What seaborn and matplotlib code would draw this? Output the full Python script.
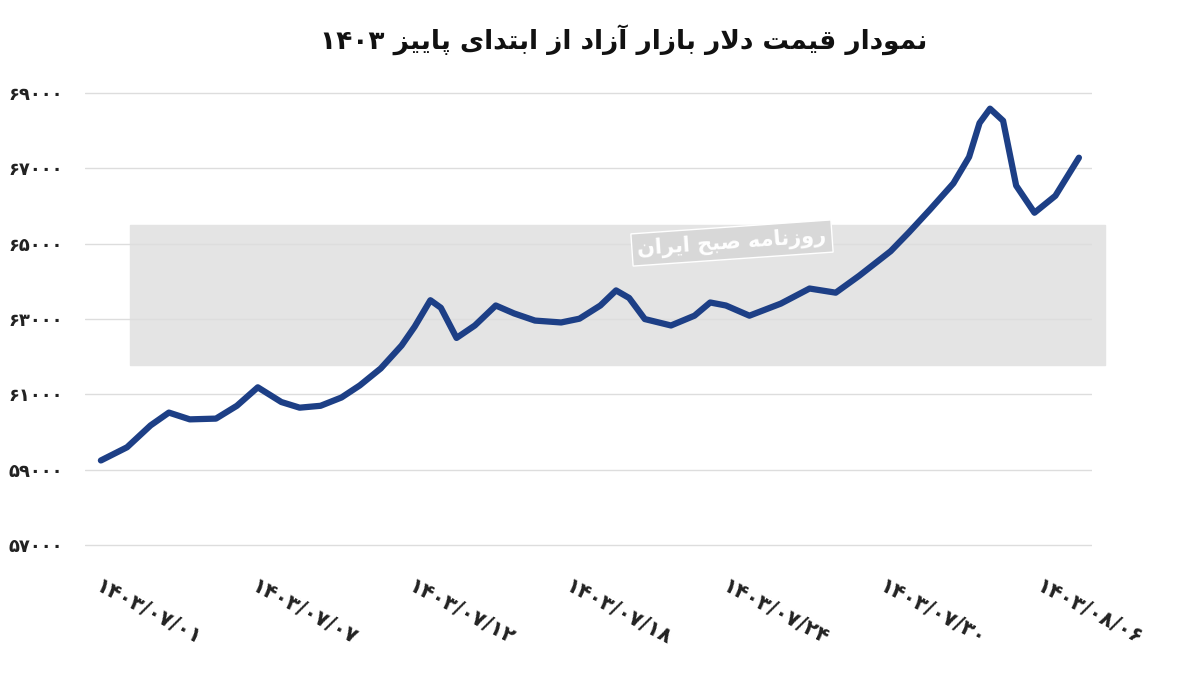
import matplotlib
matplotlib.use("Agg")
import matplotlib.pyplot as plt
import seaborn as sns
import pandas as pd
from matplotlib.patches import Rectangle

# values (x in day index from 1403/07/01)
days = [0.0, 1.0, 1.9, 2.6, 3.4, 4.4, 5.2, 6.0, 6.9, 7.6, 8.4, 9.2, 9.9, 10.7,
        11.5, 12.0, 12.6, 13.0, 13.6, 14.3, 15.1, 15.8, 16.6, 17.6, 18.3, 19.1,
        19.7, 20.2, 20.8, 21.8, 22.7, 23.3, 23.9, 24.8, 26.0, 27.1, 28.1, 29.0,
        30.2, 30.9, 31.7, 32.6, 33.2, 33.6, 34.0, 34.5, 35.0, 35.7, 36.5, 37.4]
price = [59250, 59600, 60180, 60520, 60340, 60360, 60700, 61190, 60800, 60650,
         60700, 60920, 61240, 61690, 62300, 62800, 63500, 63300, 62500, 62830,
         63360, 63150, 62960, 62910, 63010, 63360, 63760, 63560, 63000, 62830,
         63090, 63440, 63360, 63090, 63410, 63810, 63700, 64150, 64800, 65300,
         65900, 66600, 67300, 68200, 68580, 68260, 66540, 65820, 66270, 67280]

tick_pos = [0, 6, 12, 18, 24, 30, 36]
tick_labels = ["۱۴۰۳/۰۷/۰۱", "۱۴۰۳/۰۷/۰۷", "۱۴۰۳/۰۷/۱۲", "۱۴۰۳/۰۷/۱۸",
               "۱۴۰۳/۰۷/۲۴", "۱۴۰۳/۰۷/۳۰", "۱۴۰۳/۰۸/۰۶"]
y_ticks = [57000, 59000, 61000, 63000, 65000, 67000, 69000]

title = "نمودار قیمت دلار بازار آزاد از ابتدای پاییز ۱۴۰۳"
stamp = "روزنامه صبح ایران"

# minimal Persian shaping (isolated, final, initial, medial)
FORMS = {
    "ا": (0xFE8D, 0xFE8E, None, None), "آ": (0xFE81, 0xFE82, None, None),
    "ب": (0xFE8F, 0xFE90, 0xFE91, 0xFE92), "پ": (0xFB56, 0xFB57, 0xFB58, 0xFB59),
    "ت": (0xFE95, 0xFE96, 0xFE97, 0xFE98), "ح": (0xFEA1, 0xFEA2, 0xFEA3, 0xFEA4),
    "د": (0xFEA9, 0xFEAA, None, None), "ر": (0xFEAD, 0xFEAE, None, None),
    "ز": (0xFEAF, 0xFEB0, None, None), "ص": (0xFEB9, 0xFEBA, 0xFEBB, 0xFEBC),
    "ق": (0xFED5, 0xFED6, 0xFED7, 0xFED8), "ل": (0xFEDD, 0xFEDE, 0xFEDF, 0xFEE0),
    "م": (0xFEE1, 0xFEE2, 0xFEE3, 0xFEE4), "ن": (0xFEE5, 0xFEE6, 0xFEE7, 0xFEE8),
    "ه": (0xFEE9, 0xFEEA, 0xFEEB, 0xFEEC), "و": (0xFEED, 0xFEEE, None, None),
    "ی": (0xFBFC, 0xFBFD, 0xFBFE, 0xFBFF),
}


def shape_word(w):
    out = []
    i = 0
    while i < len(w):
        c = w[i]
        if c not in FORMS:
            out.append(c)
            i += 1
            continue
        prev = w[i - 1] if i > 0 else None
        join_prev = prev in FORMS and FORMS[prev][2] is not None
        if c == "ل" and i + 1 < len(w) and w[i + 1] == "ا":
            out.append(chr(0xFEFC if join_prev else 0xFEFB))
            i += 2
            continue
        nxt = w[i + 1] if i + 1 < len(w) else None
        join_next = nxt in FORMS and FORMS[c][2] is not None
        f = FORMS[c]
        if join_prev and join_next:
            out.append(chr(f[3]))
        elif join_prev:
            out.append(chr(f[1]))
        elif join_next:
            out.append(chr(f[2]))
        else:
            out.append(chr(f[0]))
        i += 1
    return "".join(out)


def rtl(text):
    words = []
    for w in text.split(" "):
        if any(ch in FORMS for ch in w):
            words.append(shape_word(w)[::-1])
        else:
            words.append(w)
    return " ".join(words[::-1])


def fa_num(n):
    return str(n).translate(str.maketrans("0123456789", "۰۱۲۳۴۵۶۷۸۹"))


sns.set_theme(style="white")
plt.rcParams["font.family"] = ["DejaVu Sans"]

df = pd.DataFrame({"day": days, "price": price})

fig = plt.figure(figsize=(12, 6.76), dpi=100)
ax = fig.add_axes([0.071, 0.19, 0.839, 0.676])

# watermark band behind the line
ax.add_patch(Rectangle((130 / 1200, 1 - 365 / 676), 975 / 1200, 140 / 676,
                       transform=fig.transFigure, color="#e4e4e4",
                       clip_on=False, zorder=0.5))
ax.text(0.61, 1 - 243 / 676, rtl(stamp), transform=fig.transFigure,
        color="white", fontsize=15, fontweight="bold", rotation=4,
        ha="center", va="center", zorder=0.6,
        bbox=dict(facecolor="#d8d8d8", edgecolor="white", pad=4))

sns.lineplot(data=df, x="day", y="price", ax=ax, color="#1d3f86",
             linewidth=4.5, zorder=3)

ax.set_ylim(56940, 69060)
ax.set_xlim(-0.6, 37.9)
ax.set_yticks(y_ticks)
ax.set_yticklabels([fa_num(v) for v in y_ticks], fontsize=13, fontweight="bold",
                   color="#222222")
ax.set_xticks(tick_pos)
ax.set_xticklabels(tick_labels, rotation=-28, ha="left", rotation_mode="anchor",
                   fontsize=15, fontweight="bold", color="#222222")
ax.tick_params(axis="x", pad=20, length=0)
ax.tick_params(axis="y", pad=16, length=0)
ax.grid(axis="y", color="#dddddd", linewidth=1, zorder=0.7)
ax.set_axisbelow(True)
for s in ax.spines.values():
    s.set_visible(False)
ax.set_xlabel("")
ax.set_ylabel("")

fig.text(0.52, 1 - 40 / 676, rtl(title), ha="center", va="center",
         fontsize=19, fontweight="bold", color="#111111")

fig.savefig("out.png", dpi=100)
